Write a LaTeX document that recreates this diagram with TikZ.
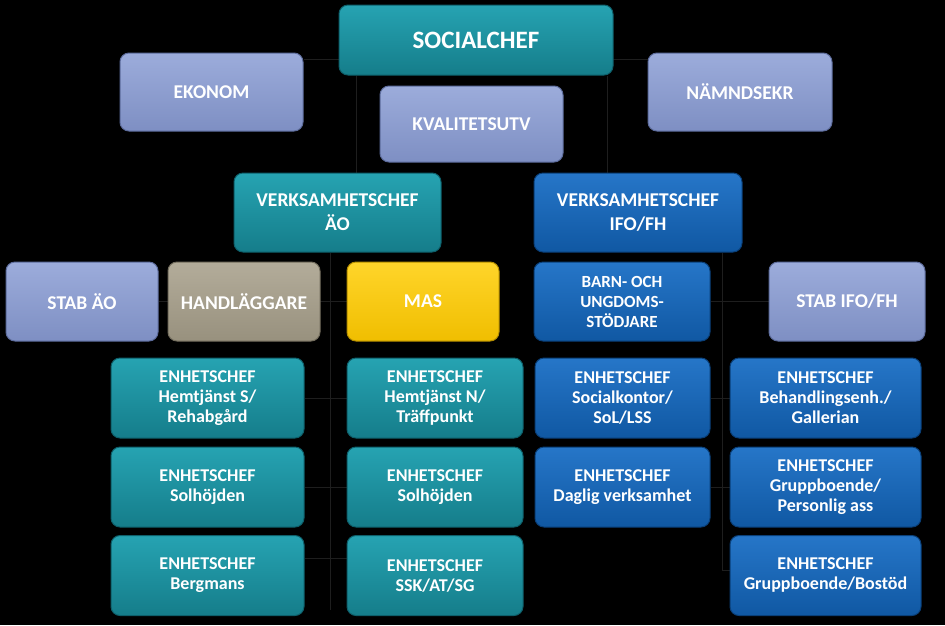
\documentclass[tikz,border=0pt]{standalone}
\usepackage{fontspec}
\setmainfont{Carlito}
\usetikzlibrary{backgrounds}
\definecolor{tealT}{HTML}{26A3B2}
\definecolor{tealB}{HTML}{157D8A}
\definecolor{tealD}{HTML}{0E5F6A}
\definecolor{blueT}{HTML}{2676C8}
\definecolor{blueB}{HTML}{1058A3}
\definecolor{blueD}{HTML}{0A3F78}
\definecolor{lavT}{HTML}{9CACDB}
\definecolor{lavB}{HTML}{7E8FC3}
\definecolor{lavD}{HTML}{5D6C9C}
\definecolor{tauT}{HTML}{B3AC9A}
\definecolor{tauB}{HTML}{98917E}
\definecolor{tauD}{HTML}{746E5E}
\definecolor{yelT}{HTML}{FFD52A}
\definecolor{yelB}{HTML}{F0BE00}
\definecolor{yelD}{HTML}{B58E00}
\definecolor{lineC}{HTML}{1E1E1E}
\tikzset{
  bx/.style={rounded corners=9pt, inner sep=0pt, align=center, text=white,
    line width=1pt, font=\bfseries\fontsize{18}{20}\selectfont},
  big/.style={font=\bfseries\fontsize{19.5}{24}\selectfont},
  tealbox/.style={bx, top color=tealT, bottom color=tealB, draw=tealD},
  bluebox/.style={bx, top color=blueT, bottom color=blueB, draw=blueD},
  lavbox/.style={bx, top color=lavT, bottom color=lavB, draw=lavD},
  taubox/.style={bx, top color=tauT, bottom color=tauB, draw=tauD},
  yelbox/.style={bx, top color=yelT, bottom color=yelB, draw=yelD},
  conn/.style={draw=lineC, line width=0.9pt},
  rowbox/.style={minimum height=80},
}
\begin{document}
\begin{tikzpicture}[x=1pt,y=-1pt]
\useasboundingbox (0,0) rectangle (945,625);
% top
\node[tealbox, minimum width=274, minimum height=70, font=\bfseries\fontsize{25}{30}\selectfont] (soc) at (476,40) {SOCIALCHEF};
\node[lavbox, big, minimum width=183, minimum height=78] (ekon) at (211.5,92) {EKONOM};
\node[lavbox, big, minimum width=183, minimum height=76] (kval) at (471.5,124) {KVALITETSUTV};
\node[lavbox, big, minimum width=184, minimum height=78] (namnd) at (740,92) {NÄMNDSEKR};
% verksamhetschefer
\node[tealbox, big, minimum width=207, minimum height=79] (vcao) at (337.5,212.5) {VERKSAMHETSCHEF\\ÄO};
\node[bluebox, big, minimum width=208, minimum height=79] (vcifo) at (638,212.5) {VERKSAMHETSCHEF\\IFO/FH};
% second row
\node[lavbox, big, minimum width=152, minimum height=79] (stabao) at (82,301.5) {STAB ÄO};
\node[taubox, big, minimum width=152, minimum height=79] (handl) at (244,301.5) {HANDLÄGGARE};
\node[yelbox, big, minimum width=152, minimum height=79] (mas) at (423,301.5) {MAS};
\node[bluebox, minimum width=176, minimum height=79, font=\bfseries\fontsize{17}{20}\selectfont] (barn) at (622,301.5) {BARN- OCH\\UNGDOMS-\\STÖDJARE};
\node[lavbox, big, minimum width=156, minimum height=79] (stabifo) at (847,301.5) {STAB IFO/FH};
% enhetschefer
\node[tealbox, rowbox, minimum width=193] (a1) at (207.5,398) {ENHETSCHEF\\Hemtjänst S/\\Rehabgård};
\node[tealbox, rowbox, minimum width=193] (a2) at (207.5,487) {ENHETSCHEF\\Solhöjden};
\node[tealbox, rowbox, minimum width=193] (a3) at (207.5,575.5) {ENHETSCHEF\\Bergmans};
\node[tealbox, rowbox, minimum width=176] (b1) at (435,398) {ENHETSCHEF\\Hemtjänst N/\\Träffpunkt};
\node[tealbox, rowbox, minimum width=176] (b2) at (435,487) {ENHETSCHEF\\Solhöjden};
\node[tealbox, rowbox, minimum width=176] (b3) at (435,575.5) {ENHETSCHEF\\SSK/AT/SG};
\node[bluebox, rowbox, minimum width=175] (c1) at (622.5,398) {ENHETSCHEF\\Socialkontor/\\SoL/LSS};
\node[bluebox, rowbox, minimum width=175] (c2) at (622.5,487) {ENHETSCHEF\\Daglig verksamhet};
\node[bluebox, rowbox, minimum width=191] (d1) at (825.5,398) {ENHETSCHEF\\Behandlingsenh./\\Gallerian};
\node[bluebox, rowbox, minimum width=191] (d2) at (825.5,487) {ENHETSCHEF\\Gruppboende/\\Personlig ass};
\node[bluebox, rowbox, minimum width=191] (d3) at (825.5,575.5) {ENHETSCHEF\\Gruppboende/Bostöd};
\coordinate (aoEnd) at (330,610);
\coordinate (ifoEnd) at (722,570);
\begin{scope}[on background layer]
\fill[black] (0,0) rectangle (945,625);
\draw[conn] (ekon.east |- 0,59) -- (namnd.west |- 0,59);
\draw[conn] (356,0 |- soc.south) -- (356,0 |- vcao.north);
\draw[conn] (607,0 |- soc.south) -- (607,0 |- vcifo.north);
\draw[conn] (aoEnd |- vcao.south) -- (aoEnd);
\draw[conn] (stabao.east) -- (mas.west);
\draw[conn] (a1.east) -- (b1.west);
\draw[conn] (a2.east) -- (b2.west);
\draw[conn] (a3.east |- 0,558) -- (b3.west |- 0,558);
\draw[conn] (ifoEnd |- vcifo.south) -- (ifoEnd);
\draw[conn] (barn.east) -- (stabifo.west);
\draw[conn] (c1.east) -- (d1.west);
\draw[conn] (c2.east) -- (d2.west);
\draw[conn] (ifoEnd) -- (d3.west |- ifoEnd);
\end{scope}
\end{tikzpicture}
\end{document}
